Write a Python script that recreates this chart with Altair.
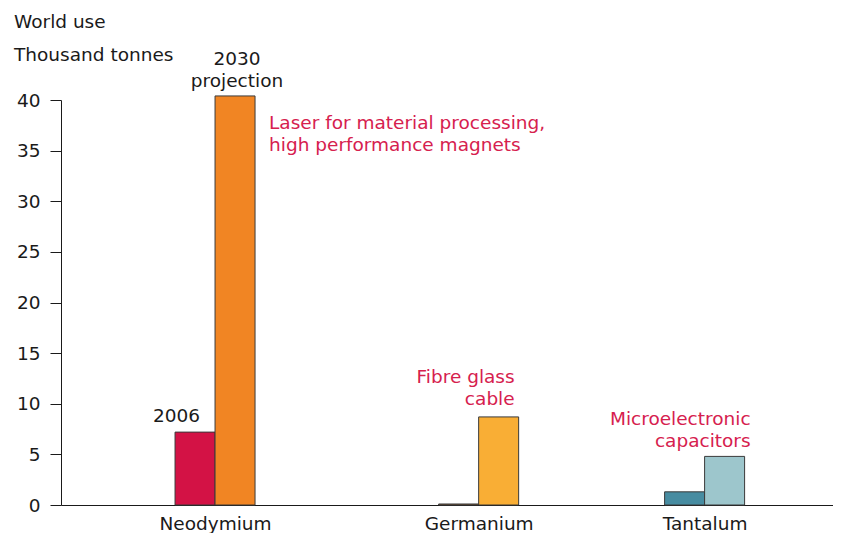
import altair as alt
import pandas as pd

# ---- data ----
metals = ["Neodymium", "Germanium", "Tantalum"]
years = ["2006", "2030"]
use_2006 = [7.2, 0.1, 1.3]      # thousand tonnes
use_2030 = [40.4, 8.7, 4.8]     # thousand tonnes, 2030 projection

label_2006 = ["2006"]
label_2030 = ["2030", "projection"]
uses_text = [
    ["Laser for material processing,", "high performance magnets"],
    ["Fibre glass", "cable"],
    ["Microelectronic", "capacitors"],
]

title_lines = ["World use", "Thousand tonnes"]

# ---- tables ----
bars = pd.DataFrame({
    "metal": metals * 2,
    "year": [years[0]] * 3 + [years[1]] * 3,
    "value": use_2006 + use_2030,
})
bars["key"] = bars["metal"] + " " + bars["year"]

notes = pd.DataFrame({
    "note": ["y2006", "y2030", "use0", "use1", "use2"],
    "metal": [metals[0], metals[0], metals[0], metals[1], metals[2]],
    "year": ["2006", "2030", "2030", "2030", "2030"],
    "text": [label_2006, label_2030] + uses_text,
})
notes = notes.merge(bars[["metal", "year", "value"]], on=["metal", "year"])

titles = pd.DataFrame({"text": [title_lines]})

# ---- styles ----
FONT = "DejaVu Sans"
FS = 18.5
INK = "#1a1a1a"
RED = "#d6204e"
key_domain = list(bars["key"])
key_colors = ["#d31245", "#8c5a2a", "#478ca1", "#f18523", "#f9ae35", "#9dc6cc"]

# the groups are unevenly spaced in the original: empty (unlabelled) slots
# of the point scale keep the spacing (3 lead, 6 and 5 between, 3 trailing)
spacers = [" " * k for k in range(1, 18)]
slot_domain = (spacers[0:3] + [metals[0]] + spacers[3:9] + [metals[1]]
               + spacers[9:14] + [metals[2]] + spacers[14:17])

xscale = alt.Scale(type="point", domain=slot_domain, padding=0.75, align=0.727)
yscale = alt.Scale(domain=[0, 40], nice=False)
offscale = alt.Scale(domain=years, range=[-40, 40], paddingInner=0, paddingOuter=0)

x_enc = alt.X("metal:N", scale=xscale,
              axis=alt.Axis(title=None, values=metals, labelAngle=0, ticks=False, labelPadding=9,
                            labelFontSize=FS, labelColor=INK, domainColor=INK,
                            labelFont=FONT, grid=False))
xo_enc = alt.XOffset("year:N", scale=offscale)
y_enc = alt.Y("value:Q", scale=yscale,
              axis=alt.Axis(title=None, values=list(range(0, 41, 5)), grid=False,
                            tickSize=11, labelPadding=10, labelFontSize=FS,
                            labelColor=INK, tickColor=INK,
                            domainColor=INK, labelFont=FONT))

bar_layer = alt.Chart(bars).mark_bar(stroke="#3a3a3a", strokeWidth=1).encode(
    x=x_enc, xOffset=xo_enc, y=y_enc,
    color=alt.Color("key:N", scale=alt.Scale(domain=key_domain, range=key_colors), legend=None),
)

def note_layer(name, color, align, dx, dy):
    return alt.Chart(notes).transform_filter(alt.datum.note == name).mark_text(
        align=align, baseline="alphabetic", dx=dx, dy=dy, fontSize=FS, font=FONT,
        lineHeight=22, color=color,
    ).encode(x=alt.X("metal:N", scale=xscale), xOffset=xo_enc,
             y=alt.Y("value:Q", scale=yscale), text="text")

title_layer = alt.Chart(titles).mark_text(
    align="left", baseline="alphabetic", fontSize=FS, font=FONT, color=INK, lineHeight=32.7,
).encode(x=alt.value(-47), y=alt.value(-72), text="text")

layers = [
    bar_layer,
    note_layer("y2006", INK, "center", -18.5, -10),
    note_layer("y2030", INK, "center", 2, -31),
    note_layer("use0", RED, "left", 34, 33),
    note_layer("use1", RED, "right", 16, -34),
    note_layer("use2", RED, "right", 26, -31),
    title_layer,
]

chart = (
    alt.layer(*layers)
    .properties(
        width=772, height=405,
        autosize=alt.AutoSizeParams(type="none"),
        padding={"left": 53, "top": 92, "right": 0, "bottom": 30},
    )
    .configure(font=FONT)
    .configure_view(stroke="transparent", strokeWidth=0)
    .configure_axis(grid=False)
)

chart.save("out.html", embed_options={"renderer": "svg", "actions": False})
